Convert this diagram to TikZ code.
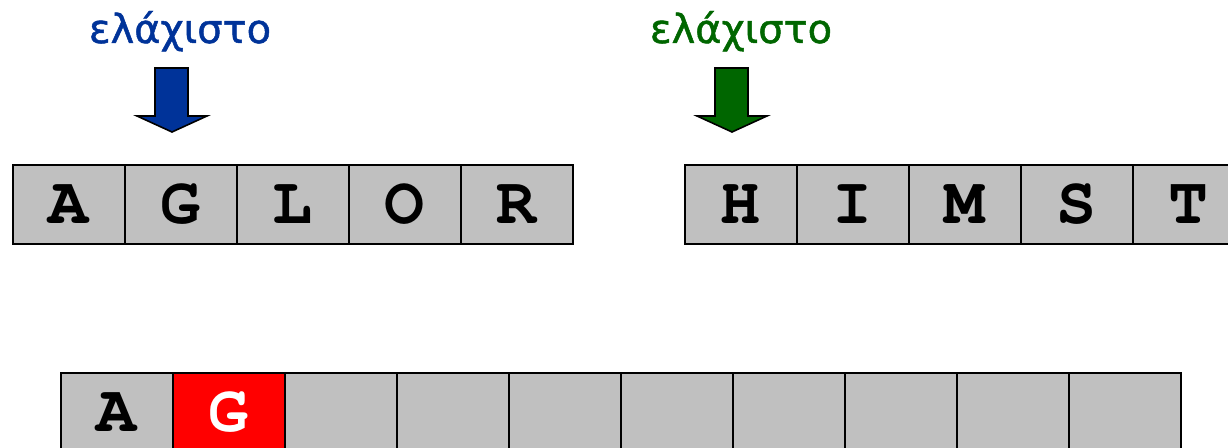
\documentclass[tikz,border=0pt]{standalone}
\usepackage{fontspec}
\setmainfont{DejaVu Sans}
\newfontfamily\labelfont[FakeBold=1.2]{DejaVu Sans}
\newfontfamily\cellfont{TeX Gyre Cursor}
\definecolor{cellgray}{RGB}{192,192,192}
\definecolor{minblue}{RGB}{0,51,153}
\definecolor{mingreen}{RGB}{0,102,0}
\definecolor{cellred}{RGB}{255,0,0}
\begin{document}
\begin{tikzpicture}[x=0.75pt,y=-0.75pt,
  cell/.style={rectangle,draw=black,line width=1.2pt,fill=cellgray,
    minimum width=84pt,minimum height=59.25pt,inner sep=0pt,anchor=north west,
    font=\cellfont\bfseries\fontsize{50}{50}\selectfont},
  redcell/.style={cell,fill=cellred,text=white},
  minlabel/.style={anchor=base,inner sep=0pt,font=\labelfont\fontsize{30}{30}\selectfont},
  downarrow/.style={draw=black,line width=1.2pt,line join=miter}]
\clip (0,0) rectangle (1228,448);
% top left row
\node[cell] (a1) at (12,164) {A};
\node[cell] (a2) at (124,164) {G};
\node[cell] (a3) at (236,164) {L};
\node[cell] (a4) at (348,164) {O};
\node[cell] (a5) at (460,164) {R};
% top right row
\node[cell] (b1) at (684,164) {H};
\node[cell] (b2) at (796,164) {I};
\node[cell] (b3) at (908,164) {M};
\node[cell] (b4) at (1020,164) {S};
\node[cell] (b5) at (1132,164) {T};
% bottom row
\node[cell] (c1) at (60,372) {A};
\node[redcell] (c2) at (172,372) {G};
\node[cell] (c3) at (284,372) {};
\node[cell] (c4) at (396,372) {};
\node[cell] (c5) at (508,372) {};
\node[cell] (c6) at (620,372) {};
\node[cell] (c7) at (732,372) {};
\node[cell] (c8) at (844,372) {};
\node[cell] (c9) at (956,372) {};
\node[cell] (c10) at (1068,372) {};
% labels
\node[minlabel,text=minblue] (lblue) at (180,43) {ελάχιστο};
\node[minlabel,text=mingreen] (lgreen) at (741,43) {ελάχιστο};
% arrows
\filldraw[downarrow,fill=minblue] (155,68) -- (188,68) -- (188,116) -- (207,116) -- (172,132) -- (137,116) -- (155,116) -- cycle;
\filldraw[downarrow,fill=mingreen] (715,68) -- (748,68) -- (748,116) -- (767,116) -- (732,132) -- (697,116) -- (715,116) -- cycle;
\end{tikzpicture}
\end{document}
